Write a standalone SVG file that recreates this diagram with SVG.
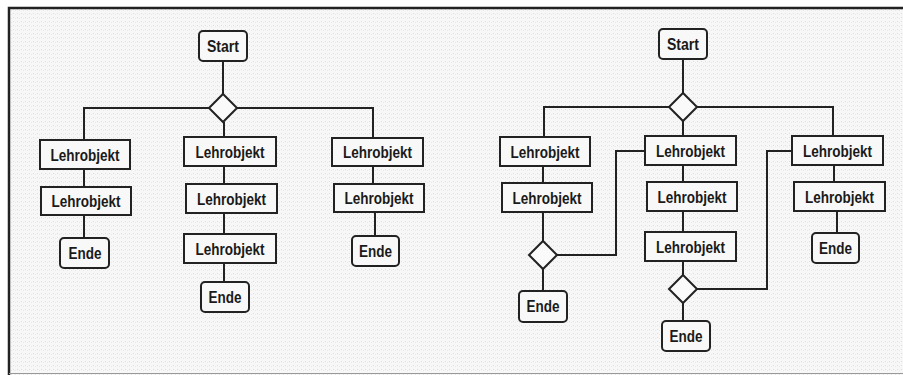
<svg xmlns="http://www.w3.org/2000/svg" width="903" height="375" viewBox="0 0 903 375">
<defs>
<pattern id="grain" width="4" height="4" patternUnits="userSpaceOnUse">
<rect width="4" height="4" fill="#f7f7f7"/>
<rect x="1" y="1" width="1" height="1" fill="#dedede"/>
<rect x="3" y="2" width="1" height="1" fill="#e8e8e8"/>
</pattern>
</defs>
<style>
.n{fill:#f8f8f8;stroke:#222;stroke-width:2}
.d{fill:#fafafa;stroke:#222;stroke-width:2}
.c{fill:none;stroke:#222;stroke-width:2}
.t{font-family:"Liberation Sans",Arial,sans-serif;font-weight:bold;font-size:16px;fill:#1a1a1a;text-anchor:middle}
.f{fill:none;stroke:#222;stroke-width:2.5}
</style>
<rect width="903" height="375" fill="#ffffff"/>
<rect x="9" y="8" width="894" height="367" fill="url(#grain)"/>
<path class="f" d="M9,375 V8 H903"/>
<path d="M9,373.5 H903" stroke="#999" stroke-width="1"/>
<g id="connectors">
<path class="c" d="M223,61 V94"/>
<path class="c" d="M84,140 V108 H373 V138"/>
<path class="c" d="M224,122 V137"/>
<path class="c" d="M84,169 V187"/>
<path class="c" d="M84,215 V238"/>
<path class="c" d="M224,166 V184"/>
<path class="c" d="M224,213 V234"/>
<path class="c" d="M224,263 V282"/>
<path class="c" d="M373,166 V184"/>
<path class="c" d="M375,212 V236"/>
<path class="c" d="M683,59 V93"/>
<path class="c" d="M544,137 V107 H833 V136"/>
<path class="c" d="M683,121 V136"/>
<path class="c" d="M543,166 V183"/>
<path class="c" d="M543,212 V241"/>
<path class="c" d="M543,269 V291"/>
<path class="c" d="M557,255 H616 V151 H645"/>
<path class="c" d="M683,165 V182"/>
<path class="c" d="M683,211 V232"/>
<path class="c" d="M683,261 V275"/>
<path class="c" d="M683,303 V321"/>
<path class="c" d="M697,289 H767 V151 H792"/>
<path class="c" d="M834,165 V182"/>
<path class="c" d="M837,211 V233"/>
</g>
<g id="start1"><rect class="n" x="199" y="31" width="48" height="30" rx="4"/><text class="t" x="223" y="51.5" textLength="32" lengthAdjust="spacingAndGlyphs">Start</text></g>
<g id="decision1"><polygon class="d" points="223,94 237,108 223,122 209,108"/></g>
<g id="lo-a1"><rect class="n" x="40" y="140" width="90" height="29"/><text class="t" x="85" y="160.5" textLength="69" lengthAdjust="spacingAndGlyphs">Lehrobjekt</text></g>
<g id="lo-a2"><rect class="n" x="41" y="187" width="90" height="28"/><text class="t" x="86" y="207" textLength="69" lengthAdjust="spacingAndGlyphs">Lehrobjekt</text></g>
<g id="ende1"><rect class="n" x="60" y="238" width="49" height="30" rx="4"/><text class="t" x="85" y="258.5" textLength="33" lengthAdjust="spacingAndGlyphs">Ende</text></g>
<g id="lo-b1"><rect class="n" x="184" y="137" width="92" height="29"/><text class="t" x="230" y="157.5" textLength="69" lengthAdjust="spacingAndGlyphs">Lehrobjekt</text></g>
<g id="lo-b2"><rect class="n" x="186" y="184" width="91" height="29"/><text class="t" x="231.5" y="204.5" textLength="69" lengthAdjust="spacingAndGlyphs">Lehrobjekt</text></g>
<g id="lo-b3"><rect class="n" x="184" y="234" width="92" height="29"/><text class="t" x="230" y="254.5" textLength="69" lengthAdjust="spacingAndGlyphs">Lehrobjekt</text></g>
<g id="ende2"><rect class="n" x="201" y="282" width="48" height="30" rx="4"/><text class="t" x="225" y="302.5" textLength="33" lengthAdjust="spacingAndGlyphs">Ende</text></g>
<g id="lo-c1"><rect class="n" x="332" y="138" width="91" height="28"/><text class="t" x="377.5" y="158" textLength="69" lengthAdjust="spacingAndGlyphs">Lehrobjekt</text></g>
<g id="lo-c2"><rect class="n" x="334" y="184" width="90" height="28"/><text class="t" x="379" y="204" textLength="69" lengthAdjust="spacingAndGlyphs">Lehrobjekt</text></g>
<g id="ende3"><rect class="n" x="352" y="236" width="47" height="30" rx="4"/><text class="t" x="375.5" y="256.5" textLength="33" lengthAdjust="spacingAndGlyphs">Ende</text></g>
<g id="start2"><rect class="n" x="659" y="29" width="48" height="30" rx="4"/><text class="t" x="683" y="49.5" textLength="32" lengthAdjust="spacingAndGlyphs">Start</text></g>
<g id="decision2"><polygon class="d" points="683,93 697,107 683,121 669,107"/></g>
<g id="lo-d1"><rect class="n" x="500" y="137" width="90" height="29"/><text class="t" x="545" y="157.5" textLength="69" lengthAdjust="spacingAndGlyphs">Lehrobjekt</text></g>
<g id="lo-d2"><rect class="n" x="502" y="183" width="90" height="29"/><text class="t" x="547" y="203.5" textLength="69" lengthAdjust="spacingAndGlyphs">Lehrobjekt</text></g>
<g id="decision3"><polygon class="d" points="543,241 557,255 543,269 529,255"/></g>
<g id="ende4"><rect class="n" x="519" y="291" width="48" height="31" rx="4"/><text class="t" x="543" y="312" textLength="33" lengthAdjust="spacingAndGlyphs">Ende</text></g>
<g id="lo-f1"><rect class="n" x="645" y="136" width="91" height="29"/><text class="t" x="690.5" y="156.5" textLength="69" lengthAdjust="spacingAndGlyphs">Lehrobjekt</text></g>
<g id="lo-f2"><rect class="n" x="647" y="182" width="90" height="29"/><text class="t" x="692" y="202.5" textLength="69" lengthAdjust="spacingAndGlyphs">Lehrobjekt</text></g>
<g id="lo-f3"><rect class="n" x="645" y="232" width="91" height="29"/><text class="t" x="690.5" y="252.5" textLength="69" lengthAdjust="spacingAndGlyphs">Lehrobjekt</text></g>
<g id="decision4"><polygon class="d" points="683,275 697,289 683,303 669,289"/></g>
<g id="ende5"><rect class="n" x="662" y="321" width="48" height="30" rx="4"/><text class="t" x="686" y="341.5" textLength="33" lengthAdjust="spacingAndGlyphs">Ende</text></g>
<g id="lo-g1"><rect class="n" x="792" y="136" width="91" height="29"/><text class="t" x="837.5" y="156.5" textLength="69" lengthAdjust="spacingAndGlyphs">Lehrobjekt</text></g>
<g id="lo-g2"><rect class="n" x="794" y="182" width="91" height="29"/><text class="t" x="839.5" y="202.5" textLength="69" lengthAdjust="spacingAndGlyphs">Lehrobjekt</text></g>
<g id="ende6"><rect class="n" x="812" y="233" width="47" height="30" rx="4"/><text class="t" x="835.5" y="253.5" textLength="33" lengthAdjust="spacingAndGlyphs">Ende</text></g>
</svg>
